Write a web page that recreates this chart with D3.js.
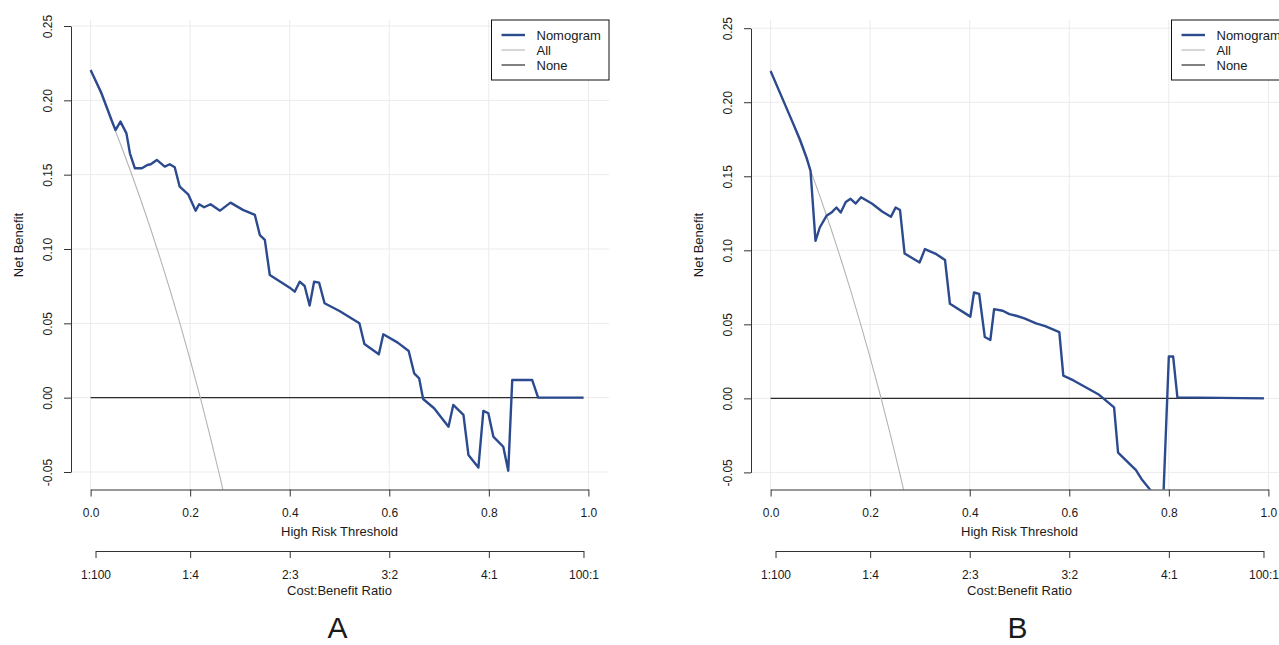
<!DOCTYPE html>
<html><head><meta charset="utf-8">
<script src="https://cdn.jsdelivr.net/npm/d3@7"></script>
<style>
body{margin:0;background:#fff}
svg{display:block}
text{font-family:"Liberation Sans",Arial,sans-serif;fill:#1a1a1a}
</style>
</head><body><svg id="c" width="1279" height="645"></svg>
<script>
// ---------- data ----------
const thresholdA=[0,0.022,0.042,0.05,0.06,0.072,0.079,0.089,0.103,0.114,0.121,0.133,0.149,0.159,0.169,0.179,0.196,0.211,0.218,0.228,0.241,0.26,0.281,0.306,0.33,0.34,0.35,0.36,0.40,0.41,0.42,0.43,0.44,0.449,0.459,0.47,0.50,0.54,0.55,0.579,0.588,0.617,0.639,0.65,0.66,0.668,0.69,0.719,0.7285,0.749,0.759,0.779,0.789,0.799,0.809,0.829,0.839,0.847,0.887,0.899,0.99];
const nomogramA=[0.2204,0.2047,0.1868,0.180,0.1857,0.1778,0.1644,0.1543,0.1543,0.1565,0.157,0.1599,0.1554,0.157,0.155,0.1419,0.1368,0.1258,0.1301,0.1281,0.1301,0.1258,0.1312,0.1263,0.1229,0.1094,0.1061,0.0825,0.074,0.0713,0.078,0.0751,0.062,0.078,0.0774,0.0635,0.0583,0.05,0.0361,0.0292,0.0426,0.037,0.0314,0.0164,0.013,-0.0009,-0.0071,-0.0195,-0.0049,-0.0116,-0.0385,-0.047,-0.0089,-0.0105,-0.0262,-0.033,-0.0491,0.0119,0.0119,0,0];

const thresholdB=[0,0.0186,0.0387,0.0587,0.0722,0.0802,0.0902,0.0988,0.1123,0.1223,0.1323,0.1409,0.151,0.1607,0.171,0.1817,0.2041,0.2241,0.2416,0.2512,0.26,0.2692,0.2993,0.31,0.333,0.3504,0.3602,0.4013,0.4086,0.419,0.4303,0.4414,0.449,0.4663,0.4797,0.4932,0.5098,0.5333,0.5516,0.58,0.588,0.6085,0.66,0.69,0.698,0.734,0.745,0.762,0.776,0.788,0.80,0.8086,0.8172,0.991];
const nomogramB=[0.221,0.2065,0.1908,0.175,0.1626,0.1536,0.1064,0.1154,0.1233,0.1255,0.1289,0.1255,0.1326,0.1348,0.1316,0.1358,0.1314,0.1262,0.1226,0.1289,0.1272,0.0978,0.0918,0.1008,0.0974,0.0934,0.0639,0.0552,0.0715,0.0706,0.0414,0.0394,0.0603,0.0592,0.0569,0.0558,0.054,0.0506,0.0488,0.0448,0.0153,0.0121,0.0024,-0.0061,-0.0366,-0.0485,-0.0544,-0.0615,-0.068,-0.075,0.0283,0.0283,0.0007,0];

const thresholdAll=[0,0.02,0.04,0.06,0.08,0.10,0.12,0.14,0.16,0.18,0.20,0.22,0.24,0.26,0.27];
const allA=[0.2204,0.2045,0.1879,0.1706,0.1526,0.1338,0.1141,0.0935,0.0719,0.0493,0.0255,0.0005,-0.0258,-0.0535,-0.0679];
const allB=[0.222,0.2061,0.1896,0.1723,0.1543,0.1356,0.1159,0.0953,0.0738,0.0512,0.0275,0.0026,-0.0237,-0.0514,-0.0658];

const thresholdNone=[0,0.99];
const noneValues=[0,0];

const xTicks=[0,0.2,0.4,0.6,0.8,1.0];
const xTickLabels=["0.0","0.2","0.4","0.6","0.8","1.0"];
const yTicks=[-0.05,0,0.05,0.10,0.15,0.20,0.25];
const yTickLabels=["-0.05","0.00","0.05","0.10","0.15","0.20","0.25"];
const costTicks=[1/101,0.2,0.4,0.6,0.8,100/101];
const costLabels=["1:100","1:4","2:3","3:2","4:1","100:1"];
const legendNames=["Nomogram","All","None"];
const panelLetters=["A","B"];

// ---------- drawing ----------
const svg=d3.select("#c");
const colNom="#2c4a8e", colAll="#b4b4b4", colNone="#2a2a2a", colGrid="#ebebeb";

function zip(xs,ys){return xs.map((t,i)=>[t,ys[i]]);}

function drawPanel(idx, ox, yBottom, yTop, nomT, nomV, allV){
  const g=svg.append("g").attr("transform",`translate(${ox},0)`);
  const x=d3.scaleLinear().domain([0,1]).range([90.6,588.4]);
  const y=d3.scaleLinear().domain([-0.05,0.25]).range([yBottom,yTop]);
  const plotL=71, plotR=609, plotT=19, plotB=489.5;

  const clipId="clip"+idx;
  g.append("clipPath").attr("id",clipId).append("rect")
    .attr("x",plotL).attr("y",plotT).attr("width",plotR-plotL).attr("height",plotB-plotT);

  // grid
  const grid=g.append("g").attr("stroke",colGrid).attr("stroke-width",1);
  grid.selectAll("line.v").data(xTicks).join("line").attr("class","v")
    .attr("x1",d=>x(d)).attr("x2",d=>x(d)).attr("y1",20).attr("y2",plotB);
  grid.selectAll("line.h").data(yTicks).join("line").attr("class","h")
    .attr("x1",plotL+1).attr("x2",plotR).attr("y1",d=>y(d)).attr("y2",d=>y(d));

  const line=d3.line().x(d=>x(d[0])).y(d=>y(d[1]));
  const curves=g.append("g").attr("clip-path",`url(#${clipId})`).attr("fill","none");
  curves.append("path").attr("d",line(zip(thresholdNone,noneValues)))
    .attr("stroke",colNone).attr("stroke-width",1.2);
  curves.append("path").attr("d",line(zip(thresholdAll,allV)))
    .attr("stroke",colAll).attr("stroke-width",1.1);
  curves.append("path").attr("d",line(zip(nomT,nomV)))
    .attr("stroke",colNom).attr("stroke-width",2.4).attr("stroke-linejoin","round");

  // y axis
  const ya=g.append("g").attr("transform",`translate(${plotL},0)`)
    .call(d3.axisLeft(y).tickValues(yTicks).tickFormat((d,i)=>yTickLabels[i]).tickSize(7).tickSizeOuter(0));
  ya.selectAll("text").attr("x",null).attr("dy","0.35em")
    .attr("transform","translate(-23,0) rotate(-90)").attr("text-anchor","middle");
  // x axis
  const xa=g.append("g").attr("transform","translate(0,489.5)")
    .call(d3.axisBottom(x).tickValues(xTicks).tickFormat((d,i)=>xTickLabels[i]).tickSize(7).tickSizeOuter(0));
  xa.selectAll("text").attr("y",23).attr("dy","0.35em");
  // cost:benefit axis
  const cx=d3.scaleLinear().domain([costTicks[0],costTicks[costTicks.length-1]])
    .range([x(costTicks[0]),x(costTicks[costTicks.length-1])]);
  const ca=g.append("g").attr("transform","translate(0,551)")
    .call(d3.axisBottom(cx).tickValues(costTicks).tickFormat((d,i)=>costLabels[i]).tickSize(7).tickSizeOuter(0));
  ca.selectAll("text").attr("y",24).attr("dy","0.35em");

  [ya,xa,ca].forEach(a=>{
    a.selectAll("path,line").attr("stroke","#333");
    a.selectAll("text").attr("font-size",12).attr("font-family",'"Liberation Sans",Arial,sans-serif').attr("fill","#1a1a1a");
  });

  // axis titles
  g.append("text").attr("transform","translate(18,245) rotate(-90)").attr("text-anchor","middle")
    .attr("dy","0.35em").attr("font-size",13).text("Net Benefit");
  g.append("text").attr("x",(x(0)+x(1))/2).attr("y",531).attr("dy","0.35em")
    .attr("text-anchor","middle").attr("font-size",13).text("High Risk Threshold");
  g.append("text").attr("x",(x(0)+x(1))/2).attr("y",590).attr("dy","0.35em")
    .attr("text-anchor","middle").attr("font-size",13).text("Cost:Benefit Ratio");

  // legend
  const lg=g.append("g").attr("transform","translate(491.5,20)");
  lg.append("rect").attr("width",117.5).attr("height",60).attr("fill","#fff").attr("stroke","#111").attr("stroke-width",1);
  const lcols=[colNom,colAll,colNone], lw=[2.4,1.1,1.2];
  legendNames.forEach((n,i)=>{
    const yy=15+i*15;
    lg.append("line").attr("x1",10).attr("x2",33.5).attr("y1",yy).attr("y2",yy)
      .attr("stroke",lcols[i]).attr("stroke-width",lw[i]);
    lg.append("text").attr("x",45).attr("y",yy).attr("dy","0.35em").attr("font-size",13).text(n);
  });

  // panel letter
  g.append("text").attr("x",(x(0)+x(1))/2-2).attr("y",638).attr("text-anchor","middle")
    .attr("font-size",30).attr("font-family",'"Liberation Sans",Arial,sans-serif')
    .text(panelLetters[idx]);
}

drawPanel(0,0,472,26,thresholdA,nomogramA,allA);
drawPanel(1,680,472.4,28.2,thresholdB,nomogramB,allB);
</script>
</body></html>
